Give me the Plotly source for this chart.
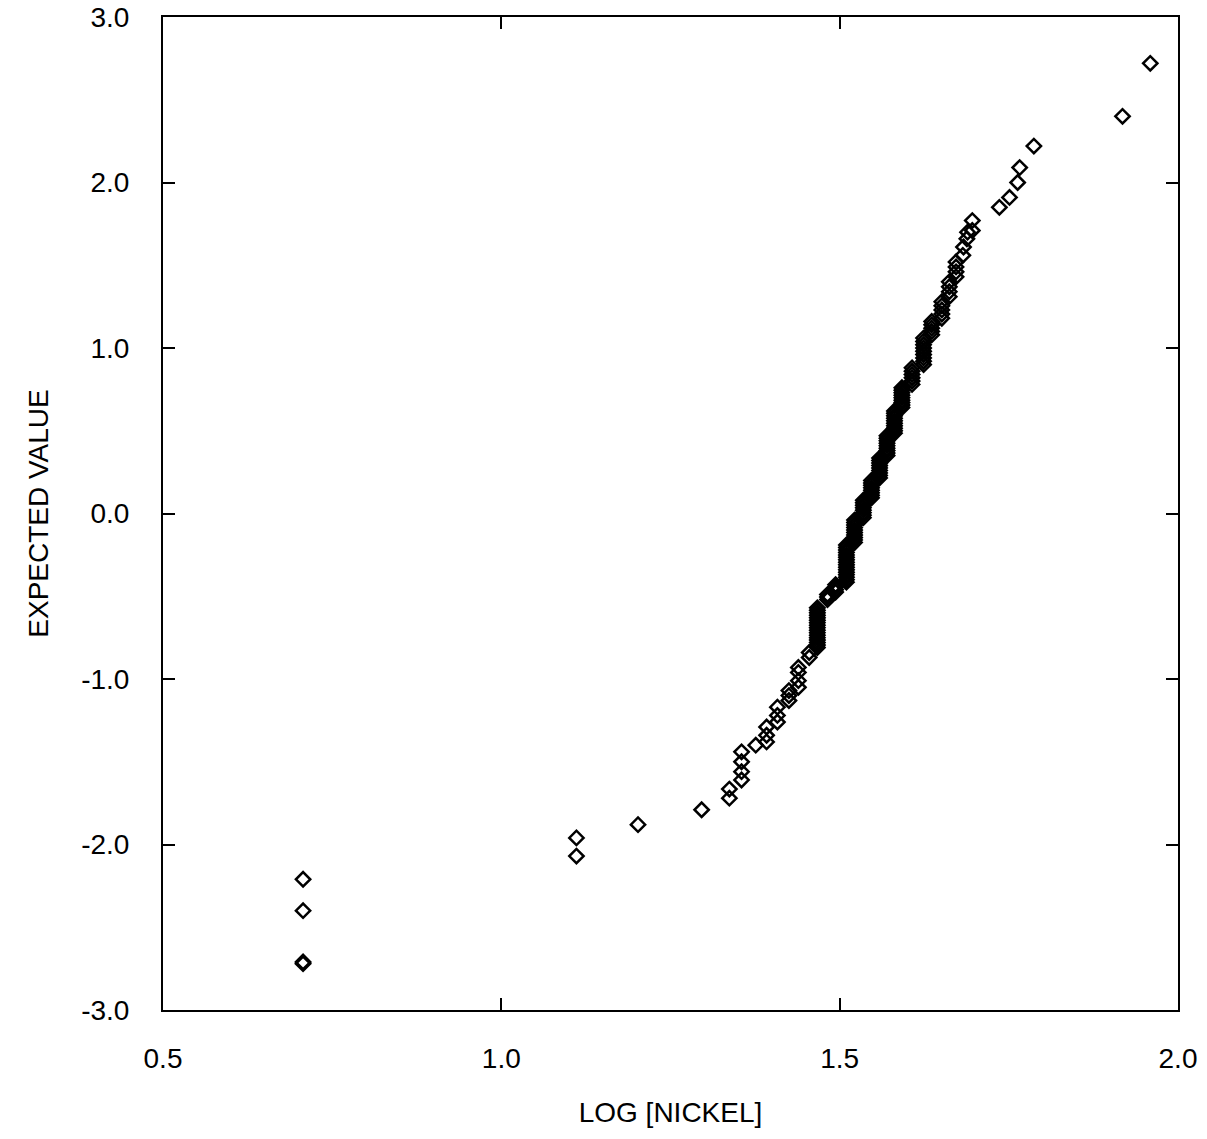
import plotly.graph_objects as go

# Log [Nickel] values (x) and expected normal scores (y)
log_nickel = (
    [0.707, 0.707, 0.707, 0.707]
    + [1.111, 1.111, 1.202, 1.296, 1.337, 1.337]
    + [1.355, 1.355, 1.355, 1.355, 1.376, 1.392, 1.392, 1.392]
    + [1.408, 1.408, 1.408, 1.425, 1.425, 1.425]
    + [1.439, 1.439, 1.439, 1.439, 1.455, 1.455]
    + [1.467] * 17
    + [1.482] * 3
    + [1.494] * 4
    + [1.510] * 16
    + [1.522] * 10
    + [1.535] * 8
    + [1.547] * 8
    + [1.559] * 9
    + [1.570] * 9
    + [1.581] * 10
    + [1.592] * 9
    + [1.607] * 6
    + [1.624] * 9
    + [1.636] * 5
    + [1.651] * 5
    + [1.662] * 4
    + [1.672] * 4
    + [1.682, 1.683, 1.688, 1.689, 1.696, 1.696]
    + [1.736, 1.751, 1.763, 1.766, 1.787, 1.918, 1.959]
)

expected_value = (
    [-2.21, -2.40, -2.71, -2.72]
    + [-1.96, -2.07, -1.88, -1.79, -1.665, -1.72]
    + [-1.44, -1.50, -1.56, -1.61, -1.40, -1.29, -1.34, -1.38]
    + [-1.17, -1.22, -1.26, -1.07, -1.10, -1.13]
    + [-0.93, -0.96, -1.01, -1.05, -0.84, -0.87]
    + [-0.57, -0.585, -0.60, -0.615, -0.63, -0.645, -0.66, -0.675, -0.69,
       -0.705, -0.72, -0.735, -0.75, -0.765, -0.78, -0.795, -0.81]
    + [-0.52, -0.505, -0.49]
    + [-0.475, -0.46, -0.445, -0.43]
    + [-0.415, -0.40, -0.385, -0.37, -0.355, -0.34, -0.325, -0.31, -0.295,
       -0.28, -0.265, -0.25, -0.235, -0.22, -0.205, -0.19]
    + [-0.175, -0.16, -0.145, -0.13, -0.115, -0.10, -0.085, -0.07, -0.055, -0.04]
    + [-0.025, -0.01, 0.005, 0.02, 0.035, 0.05, 0.065, 0.08]
    + [0.095, 0.11, 0.125, 0.14, 0.155, 0.17, 0.185, 0.20]
    + [0.215, 0.23, 0.245, 0.26, 0.275, 0.29, 0.305, 0.32, 0.335]
    + [0.35, 0.365, 0.38, 0.395, 0.41, 0.425, 0.44, 0.455, 0.47]
    + [0.485, 0.50, 0.515, 0.53, 0.545, 0.56, 0.575, 0.59, 0.605, 0.62]
    + [0.64, 0.655, 0.67, 0.685, 0.70, 0.715, 0.73, 0.745, 0.76]
    + [0.78, 0.80, 0.82, 0.84, 0.86, 0.88]
    + [0.90, 0.92, 0.94, 0.96, 0.98, 1.00, 1.02, 1.04, 1.06]
    + [1.08, 1.10, 1.12, 1.14, 1.16]
    + [1.18, 1.205, 1.23, 1.255, 1.28]
    + [1.31, 1.34, 1.37, 1.40]
    + [1.43, 1.46, 1.49, 1.52]
    + [1.56, 1.61, 1.66, 1.70, 1.71, 1.77]
    + [1.85, 1.91, 2.00, 2.09, 2.22, 2.40, 2.72]
)

x_ticks = [0.5, 1.0, 1.5, 2.0]
x_tick_labels = ["0.5", "1.0", "1.5", "2.0"]
y_ticks = [-3.0, -2.0, -1.0, 0.0, 1.0, 2.0, 3.0]
y_tick_labels = ["-3.0", "-2.0", "-1.0", "0.0", "1.0", "2.0", "3.0"]

FONT = "Liberation Sans, Arial, sans-serif"

fig = go.Figure()
fig.add_trace(go.Scatter(
    x=log_nickel, y=expected_value, mode="markers",
    marker=dict(symbol="diamond-open", size=11, color="black",
                line=dict(color="black", width=2.5)),
    showlegend=False,
))

axis_common = dict(
    showgrid=False, zeroline=False, showline=True, linecolor="black",
    linewidth=2, mirror="ticks", ticks="inside", ticklen=12, tickwidth=1.5,
    tickcolor="black", automargin=False,
    tickfont=dict(family=FONT, size=28, color="black"),
)

fig.update_layout(
    width=1207, height=1139,
    margin=dict(l=163, r=29, t=17, b=129),
    paper_bgcolor="white", plot_bgcolor="white",
    xaxis=dict(range=[0.5, 2.0], tickvals=x_ticks, ticktext=x_tick_labels,
               ticklabelstandoff=22,
               title=dict(text="LOG [NICKEL]", standoff=30,
                          font=dict(family=FONT, size=28, color="black")),
               **axis_common),
    yaxis=dict(range=[-3.0, 3.0], tickvals=y_ticks, ticktext=y_tick_labels,
               ticklabelstandoff=26,
               title=dict(text="EXPECTED VALUE", standoff=24,
                          font=dict(family=FONT, size=28, color="black")),
               **axis_common),
)

fig.write_html("out.html")
